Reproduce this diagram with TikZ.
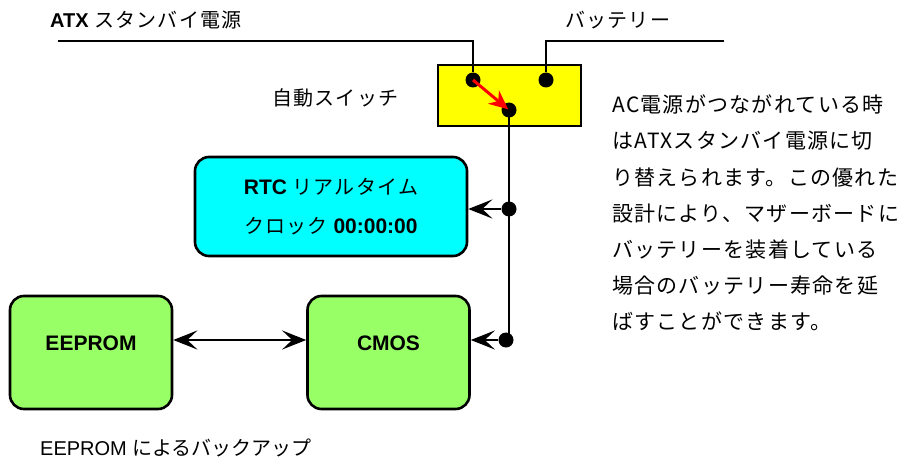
\documentclass[tikz,border=0pt]{standalone}
\usepackage{fontspec}
\setmainfont{Liberation Sans}
\newfontfamily\jp{Noto Sans CJK JP}
\newfontfamily\jpwide[LetterSpace=6]{Noto Sans CJK JP}
\usetikzlibrary{arrows.meta, positioning}
\definecolor{rtccyan}{rgb}{0, 1, 1}
\definecolor{chipgreen}{RGB}{153, 255, 102}
\definecolor{switchyellow}{RGB}{255, 255, 0}
\tikzstyle{chip} = [rectangle, rounded corners=14pt, minimum width=162pt, minimum height=113pt, text centered, fill=chipgreen, draw=black, line width=2.6pt, font=\fontsize{21}{25}\selectfont\bfseries, text height=15pt, text depth=20pt]
\tikzstyle{clock} = [rectangle, rounded corners=14pt, minimum width=272pt, minimum height=99pt, align=center, fill=rtccyan, draw=black, line width=2.6pt, font=\fontsize{20}{39}\selectfont]
\tikzstyle{switchbox} = [rectangle, minimum width=143pt, minimum height=61pt, fill=switchyellow, draw=black, line width=1.8pt]
\tikzstyle{junction} = [circle, fill=black, inner sep=0pt, minimum size=15pt]
\tikzstyle{caption} = [anchor=base west, inner sep=0pt, font=\fontsize{20}{24}\selectfont]
\tikzstyle{wire} = [line width=2.8pt]
\tikzstyle{arrow} = [line width=2.8pt, ->, >={Stealth[length=24pt, width=19pt, inset=10pt]}]

\begin{document}
\begin{tikzpicture}[x=1pt, y=-1pt]
\useasboundingbox (0,0) rectangle (906,460);

% switch
\node (switch) [switchbox] at (509.5,95.5) {};
\node (pinA) [junction] at (473,80) {};
\node (pinB) [junction] at (546,80) {};
\node (pinC) [junction] at (509,110) {};
\coordinate (atxend) at (58,41);
\coordinate (batend) at (724,41);
\draw[wire] (atxend) -| (pinA);
\draw[wire] (batend) -| (pinB);
\draw[arrow, red, line width=3pt, >={Stealth[length=19pt, width=17pt, inset=6pt]}, shorten >=1pt] (pinA.center) -- (pinC.center);

% clock, cmos and eeprom
\node (rtc) [clock] at (331,206.5) {{\bfseries\fontsize{21}{39}\selectfont RTC} {\jpwide リアルタイム}\\{\jpwide クロック} {\bfseries\fontsize{21}{39}\selectfont 00:00:00}};
\node (cmos) [chip] at (388.5,352.5) {CMOS};
\node (eeprom) [chip] at (91,352.5) {EEPROM};

\node (tapR) [junction] at (509,209) {};
\node (tapM) [junction] at (506,340) {};
\coordinate (busend) at (509,336);
\draw[wire] (pinC.center) -- (busend);
\draw[arrow] (tapR) -- (rtc.east |- tapR);
\draw[arrow] (tapM) -- (cmos.east |- tapM);
\draw[arrow, <->] (eeprom.east |- tapM) -- (cmos.west |- tapM);

% labels
\node (atx) [caption] at (50,28) {{\bfseries\fontsize{20}{24}\selectfont ATX} {\jpwide スタンバイ電源}};
\node (battery) [caption] at (565,28) {\jpwide バッテリー};
\node (auto) [caption] at (272,106) {\jpwide 自動スイッチ};
\node (backup) [caption] at (40,455) {EEPROM {\jp によるバックアップ}};

% note
\foreach \txt [count=\i] in {AC電源がつながれている時, はATXスタンバイ電源に切, り替えられます。この優れた, 設計により、マザーボードに, バッテリーを装着している, 場合のバッテリー寿命を延, ばすことができます。}
  \node (note\i) [caption, font=\fontsize{21}{24}\selectfont\jpwide] at (612,113+36*\i-36) {\txt};

\end{tikzpicture}
\end{document}
